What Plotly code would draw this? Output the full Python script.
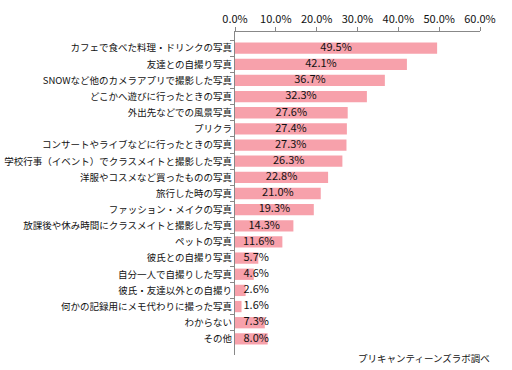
import plotly.graph_objects as go

categories = [
    "カフェで食べた料理・ドリンクの写真",
    "友達との自撮り写真",
    "SNOWなど他のカメラアプリで撮影した写真",
    "どこかへ遊びに行ったときの写真",
    "外出先などでの風景写真",
    "プリクラ",
    "コンサートやライブなどに行ったときの写真",
    "学校行事（イベント）でクラスメイトと撮影した写真",
    "洋服やコスメなど買ったものの写真",
    "旅行した時の写真",
    "ファッション・メイクの写真",
    "放課後や休み時間にクラスメイトと撮影した写真",
    "ペットの写真",
    "彼氏との自撮り写真",
    "自分一人で自撮りした写真",
    "彼氏・友達以外との自撮り",
    "何かの記録用にメモ代わりに撮った写真",
    "わからない",
    "その他",
]
values = [49.5, 42.1, 36.7, 32.3, 27.6, 27.4, 27.3, 26.3, 22.8, 21.0,
          19.3, 14.3, 11.6, 5.7, 4.6, 2.6, 1.6, 7.3, 8.0]
tick_vals = [0, 10, 20, 30, 40, 50, 60]
tick_text = ["0.0%", "10.0%", "20.0%", "30.0%", "40.0%", "50.0%", "60.0%"]
source_note = "プリキャンティーンズラボ調べ"

label_min_center = 5.2
label_x = [max(v / 2, label_min_center) for v in values]
label_text = [f"{v:.1f}%" for v in values]

jp_font = "Noto Sans CJK JP"

fig = go.Figure()
fig.add_trace(go.Bar(
    x=values, y=categories, orientation="h",
    marker=dict(color="#F7A1AB", line=dict(width=0)),
    hoverinfo="skip",
))
fig.add_trace(go.Scatter(
    x=label_x, y=categories, mode="text", text=label_text,
    textposition="middle center",
    textfont=dict(family=jp_font, size=11, color="#111111"),
    hoverinfo="skip",
))

fig.update_layout(
    width=512, height=370,
    margin=dict(l=235, r=32, t=32, b=15),
    paper_bgcolor="white", plot_bgcolor="white",
    showlegend=False, bargap=0.3,
    font=dict(family=jp_font, size=10, color="#111111"),
    annotations=[dict(
        text=source_note, xref="paper", yref="paper",
        x=1.05, y=-0.01, xanchor="right", yanchor="middle",
        showarrow=False, font=dict(family=jp_font, size=9.5, color="#111111"),
    )],
)
fig.update_xaxes(
    side="top", range=[0, 60], tickvals=tick_vals, ticktext=tick_text,
    showgrid=False, zeroline=False, showline=True, linecolor="#888888",
    ticks="outside", ticklen=4, tickcolor="#888888", automargin=False,
    tickfont=dict(family=jp_font, size=11, color="#111111"),
)
fig.update_yaxes(
    type="category", categoryorder="array", categoryarray=categories,
    autorange="reversed", showgrid=False, showline=True, linecolor="#888888",
    ticks="outside", ticklen=4, tickcolor="#888888", tickson="boundaries",
    automargin=False,
    tickfont=dict(family=jp_font, size=9.5, color="#111111"),
)

fig.write_html(
    "out.html",
    config={"displayModeBar": False},
    post_script="document.body.style.margin='0';document.body.style.overflow='hidden';",
)
